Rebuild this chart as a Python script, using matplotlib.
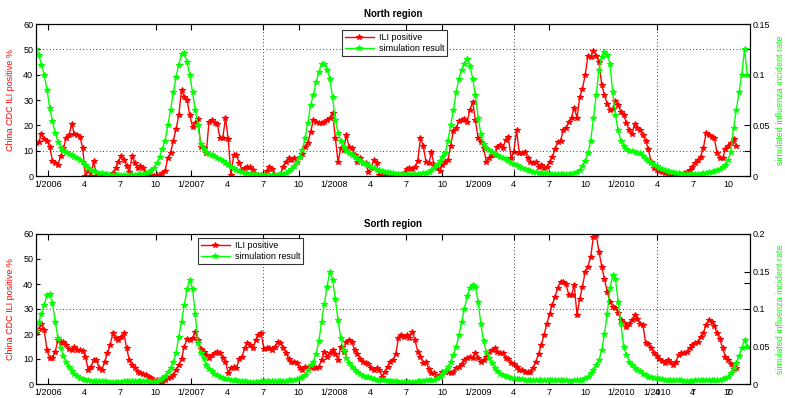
import numpy as np
import matplotlib
matplotlib.use("Agg")
import matplotlib.pyplot as plt
from matplotlib.transforms import blended_transform_factory, offset_copy

plt.rcParams['font.family'] = ['Liberation Sans', 'DejaVu Sans']

# quarter labels along the weekly x axis (week 0 = early Dec 2005)
tick_labels = ["1/2006", "4", "7", "10", "1/2007", "4", "7", "10", "1/2008", "4",
               "7", "10", "1/2009", "4", "7", "10", "1/2010", "4", "7", "10"]
first_tick_week = 4.4
weeks_per_quarter = 13.04
top_tick_idx = [0, 3, 4, 6, 7, 10, 11, 13, 14, 17]
vgrid_idx = [6, 13, 17]
# stray labels overprinted on the lower panel
south_extra_idx = [17, 18, 19]
south_extra_labels = ["1/2010", "4", "7"]

# North region: ILI positive (%) per week
north_ili = [
    13, 13.5, 16.5, 14.5, 14, 11.5, 6, 5, 4.5, 8,
    11, 15, 16, 20.5, 16.5, 16, 15.5, 11, 0, 2,
    0, 6, 0, 0.5, 0, 0.5, 0, 0.3, 1, 3,
    5.5, 8, 6.5, 4, 1.5, 8, 5, 3, 4, 3,
    1, 0, 0.5, 0, 0.5, 0.3, 1, 2, 7, 9,
    14, 18.5, 24, 34, 31, 30, 24, 19.5, 21, 22.5,
    11.5, 11, 9, 21.5, 22, 21, 20.5, 15, 15, 23,
    14.5, 0.4, 8.3, 8.3, 5, 2.4, 3, 3.7, 3.5, 2.4,
    0.4, 0.4, 0.3, 0.5, 2, 3.4, 2.8, 0.4, 0.3, 0.5,
    3.7, 5.7, 7, 6.3, 7, 5.7, 7.6, 8.6, 11.6, 13,
    17.5, 22, 21.4, 21, 20.8, 21.4, 22, 22.8, 25, 15,
    5.7, 11, 10.3, 16, 11.5, 11, 8.3, 5.7, 7, 5,
    5, 1.7, 3, 6.3, 5, 0.4, 0.5, 0.3, 0.5, 0.3,
    0.5, 0.3, 0.5, 0.5, 1, 2.8, 3, 2.8, 3.5, 6,
    15, 12, 5.7, 5, 9.3, 4.3, 3, 2, 4.3, 5.7,
    6.3, 12, 17.8, 18.8, 21.7, 22, 22.5, 21.5, 26, 29.3,
    22, 15, 13.5, 11, 5.7, 7, 8.3, 8.3, 11.6, 12.2,
    11, 14.2, 15.5, 7, 9.6, 18, 9, 9, 9.6, 7,
    5.7, 5, 5.7, 3.7, 4.3, 3, 3.7, 5.7, 7.5, 10.5,
    13.6, 14, 18, 19, 21.5, 23, 27, 23, 31, 34.5,
    40, 47.5, 47, 49.5, 47.5, 45, 36, 32, 28.5, 26,
    26.5, 29.5, 28, 25.4, 24, 21, 18, 16.5, 20.5, 19,
    18, 16, 14, 10.5, 5.5, 3, 2.5, 2, 1.5, 1,
    1, 0.5, 0.5, 0.3, 0.3, 0.5, 1, 1.7, 2.5, 3.5,
    5, 6.5, 7.5, 11, 16.8, 16, 15.5, 15, 9, 7,
    7, 10.5, 12, 13, 14.5, 12,
]

# North region: simulated influenza incident rate per week
north_sim = [
    0.125, 0.119, 0.110, 0.100, 0.085, 0.0675, 0.054, 0.0425, 0.034, 0.0275,
    0.025, 0.0233, 0.0218, 0.0205, 0.0188, 0.0175, 0.0158, 0.0138, 0.0113, 0.0083,
    0.0063, 0.005, 0.004, 0.0033, 0.0025, 0.002, 0.0015, 0.0013, 0.0013, 0.001,
    0.0008, 0.0008, 0.0008, 0.0008, 0.0008, 0.001, 0.0013, 0.0015, 0.0018, 0.0023,
    0.0025, 0.0035, 0.0055, 0.0083, 0.0125, 0.0188, 0.0263, 0.035, 0.05, 0.065,
    0.0825, 0.0975, 0.11, 0.12, 0.121, 0.1125, 0.1, 0.0825, 0.065, 0.05,
    0.0313, 0.0263, 0.0238, 0.022, 0.0208, 0.0193, 0.0175, 0.0163, 0.0145, 0.0125,
    0.0108, 0.0093, 0.0075, 0.0063, 0.005, 0.004, 0.0033, 0.0025, 0.002, 0.0015,
    0.0013, 0.001, 0.001, 0.001, 0.001, 0.001, 0.001, 0.001, 0.0013, 0.0015,
    0.0023, 0.0033, 0.005, 0.0065, 0.01, 0.0138, 0.0188, 0.0258, 0.0375, 0.0525,
    0.07, 0.08, 0.0925, 0.1025, 0.111, 0.111, 0.105, 0.096, 0.0775, 0.055,
    0.0425, 0.035, 0.0288, 0.025, 0.023, 0.0208, 0.0188, 0.017, 0.015, 0.0133,
    0.0118, 0.0105, 0.009, 0.0075, 0.0063, 0.0055, 0.0048, 0.004, 0.0035, 0.003,
    0.0025, 0.0023, 0.002, 0.002, 0.0018, 0.0018, 0.0018, 0.0018, 0.0018, 0.002,
    0.0023, 0.0025, 0.0033, 0.0043, 0.0055, 0.0075, 0.0108, 0.015, 0.0188, 0.0225,
    0.035, 0.05, 0.065, 0.0825, 0.096, 0.105, 0.111, 0.115, 0.109, 0.096,
    0.08, 0.0575, 0.0413, 0.0313, 0.0275, 0.0255, 0.024, 0.022, 0.0205, 0.019,
    0.0175, 0.0163, 0.015, 0.0133, 0.012, 0.0105, 0.0093, 0.008, 0.0068, 0.0058,
    0.0048, 0.0043, 0.0038, 0.0033, 0.003, 0.0028, 0.0025, 0.0023, 0.002, 0.002,
    0.0018, 0.0018, 0.0018, 0.0018, 0.002, 0.0023, 0.0028, 0.0035, 0.0055, 0.0095,
    0.015, 0.0225, 0.035, 0.057, 0.08, 0.105, 0.1175, 0.1225, 0.119, 0.111,
    0.0825, 0.06, 0.045, 0.035, 0.0295, 0.0263, 0.025, 0.0243, 0.0235, 0.023,
    0.0225, 0.02, 0.017, 0.0145, 0.0125, 0.0108, 0.0095, 0.0083, 0.007, 0.006,
    0.005, 0.0043, 0.0035, 0.003, 0.0025, 0.002, 0.0018, 0.0018, 0.0018, 0.0018,
    0.0018, 0.002, 0.0023, 0.0025, 0.003, 0.0035, 0.0043, 0.005, 0.0063, 0.007,
    0.0088, 0.0108, 0.0158, 0.024, 0.0475, 0.065, 0.0825, 0.1, 0.125, 0.1,
]

# South region: ILI positive (%) per week
south_ili = [
    20.3, 22, 24, 21.5, 13.5, 10.3, 10.3, 13, 17.6, 16.5,
    17, 15.6, 14, 13.5, 15, 13.6, 13.6, 13.2, 11, 5.6,
    7, 9.6, 9.6, 6.3, 5.6, 9, 12.3, 15.6, 20.3, 18.3,
    17.6, 19, 20.3, 14.3, 9.6, 7.6, 6.3, 5, 4.3, 4,
    3.6, 3, 2.3, 1.2, 1.6, 0.9, 0.7, 1.5, 2.3, 3,
    3.6, 5.6, 7.6, 10, 15, 18, 17.6, 18.3, 21, 17.6,
    14, 13, 11.6, 10.3, 11.6, 12.3, 13, 12.3, 10.5, 9,
    4.3, 6.3, 7, 6.3, 10, 11, 14.3, 16.3, 15.6, 14.3,
    17.5, 19.6, 20.3, 14, 14.3, 14.3, 13.6, 15, 17, 16.3,
    14.5, 12.5, 10, 9, 8.7, 8.3, 6.3, 5.6, 7, 6.3,
    6.3, 7, 6.5, 7, 9.6, 13, 11, 12.3, 13.5, 12,
    9.6, 15, 13, 17, 17.6, 17, 13.6, 12, 10, 9,
    8.3, 7.9, 6.3, 5.5, 6.3, 5.6, 3, 5, 7, 9,
    9.6, 12, 18.3, 19.6, 19, 19.6, 18.3, 21, 17.6, 13,
    11, 8.3, 9, 6, 4.3, 4.3, 3, 3.6, 5, 5,
    5, 4.3, 5, 6.3, 6.8, 8, 9.6, 10.3, 11, 10.3,
    12.3, 10.5, 9, 9.6, 11, 13, 13.5, 14.3, 13, 12.3,
    12.3, 10.3, 10, 8.5, 8, 7, 5.6, 5.6, 5, 5,
    5, 6.5, 9, 12, 15.6, 19.6, 24, 28, 31.6, 35,
    38.5, 41, 41, 40, 35.6, 35.6, 39.6, 27.6, 34, 39,
    45, 47, 51, 59, 59.6, 53, 47, 42, 37, 33,
    31, 30.5, 28.5, 25.5, 24.3, 23, 24, 25.6, 27.6, 26,
    24, 23.6, 16.5, 16, 14.5, 12.3, 11.3, 10, 9.3, 8.3,
    9.6, 9, 7.6, 9, 11.6, 12.3, 12.3, 13, 14.3, 15.5,
    16.3, 16.8, 19, 20.3, 23.6, 25.6, 25, 23.3, 20.3, 18,
    14.5, 11, 9.5, 8, 6, 6.3,
]

# South region: simulated influenza incident rate per week
south_sim = [
    0.072, 0.0833, 0.0933, 0.1053, 0.1183, 0.12, 0.1077, 0.0833, 0.061, 0.0477,
    0.0367, 0.0287, 0.0223, 0.0167, 0.0133, 0.0107, 0.0083, 0.0067, 0.0053, 0.0047,
    0.0043, 0.004, 0.004, 0.004, 0.0037, 0.0037, 0.0033, 0.0033, 0.003, 0.003,
    0.0033, 0.0033, 0.0037, 0.0037, 0.004, 0.004, 0.004, 0.004, 0.004, 0.004,
    0.0037, 0.0033, 0.003, 0.003, 0.0043, 0.0053, 0.0077, 0.0107, 0.0157, 0.0217,
    0.03, 0.0417, 0.0633, 0.0833, 0.105, 0.1267, 0.1387, 0.1267, 0.0933, 0.055,
    0.041, 0.0343, 0.0253, 0.02, 0.0167, 0.014, 0.0117, 0.01, 0.0083, 0.0073,
    0.0063, 0.0057, 0.005, 0.0047, 0.0043, 0.004, 0.0037, 0.0033, 0.0033, 0.003,
    0.0033, 0.0033, 0.0037, 0.004, 0.004, 0.004, 0.004, 0.004, 0.004, 0.004,
    0.0043, 0.0043, 0.0047, 0.005, 0.0057, 0.0067, 0.0077, 0.0093, 0.012, 0.0183,
    0.025, 0.03, 0.04, 0.0567, 0.0833, 0.1067, 0.13, 0.15, 0.1387, 0.1133,
    0.085, 0.061, 0.0453, 0.035, 0.0283, 0.0233, 0.0187, 0.016, 0.0133, 0.0113,
    0.01, 0.0087, 0.0077, 0.0067, 0.006, 0.0053, 0.005, 0.0047, 0.0043, 0.0043,
    0.004, 0.0037, 0.0033, 0.0033, 0.003, 0.003, 0.003, 0.0033, 0.0033, 0.0037,
    0.004, 0.0043, 0.0047, 0.005, 0.0053, 0.006, 0.0077, 0.01, 0.014, 0.0167,
    0.0227, 0.03, 0.0383, 0.05, 0.065, 0.0833, 0.1, 0.1167, 0.1283, 0.132,
    0.13, 0.11, 0.08, 0.0567, 0.0433, 0.035, 0.0277, 0.0217, 0.0167, 0.014,
    0.012, 0.0103, 0.009, 0.0083, 0.0077, 0.007, 0.0067, 0.0063, 0.006, 0.0057,
    0.0053, 0.005, 0.005, 0.005, 0.005, 0.005, 0.005, 0.005, 0.005, 0.0053,
    0.0053, 0.0053, 0.005, 0.0047, 0.0043, 0.0043, 0.0047, 0.005, 0.0053, 0.006,
    0.0077, 0.01, 0.015, 0.0187, 0.0253, 0.0317, 0.045, 0.0667, 0.0933, 0.1277,
    0.145, 0.14, 0.11, 0.08, 0.05, 0.0387, 0.03, 0.025, 0.0217, 0.0187,
    0.0167, 0.014, 0.0117, 0.01, 0.009, 0.0083, 0.0077, 0.007, 0.0067, 0.006,
    0.0057, 0.0053, 0.005, 0.005, 0.0047, 0.0047, 0.0043, 0.0043, 0.0043, 0.0043,
    0.0047, 0.0047, 0.005, 0.005, 0.005, 0.0053, 0.0053, 0.0053, 0.0053, 0.006,
    0.0067, 0.0083, 0.01, 0.0143, 0.021, 0.0283, 0.0367, 0.0477, 0.0587, 0.05,
]

RED = (1.0, 0.0, 0.0)
GREEN = (0.0, 1.0, 0.0)
FS = 6.5

fig = plt.figure(figsize=(7.85, 3.98), dpi=100)


def draw_panel(rect, ili, sim, title, rmax, rticks, rminor, hgrid, leg_anchor, extra=None):
    ax = fig.add_axes(rect)
    ax2 = ax.twinx()
    ax.set_zorder(1)
    ax2.set_zorder(2)
    ax2.patch.set_visible(False)

    l1, = ax.plot(np.arange(len(ili)), ili, '-', color=RED, marker='*', ms=4, lw=1, mew=0.8)
    l2, = ax2.plot(np.arange(len(sim)), sim, '-', color=GREEN, marker='*', ms=4, lw=1, mew=0.8)

    ax.set_xlim(0, 260)
    ax.set_ylim(0, 60)
    ax2.set_ylim(0, rmax)

    tick_pos = [first_tick_week + weeks_per_quarter * k for k in range(len(tick_labels))]
    ax.set_xticks(tick_pos, tick_labels)
    ax.xaxis.remove_overlapping_locs = False
    ax.set_xticks([tick_pos[k] for k in top_tick_idx], minor=True)
    ax.tick_params(axis='x', which='major', length=0, pad=3, labelsize=FS)
    ax.tick_params(axis='x', which='minor', direction='in', length=4, top=True, bottom=True, width=0.8)

    ax.set_yticks(np.arange(0, 61, 10))
    ax.tick_params(axis='y', direction='in', length=3, labelsize=FS, pad=2, width=0.8)
    ax2.set_yticks(rticks)
    ax2.set_yticks(rminor, minor=True)
    ax2.set_yticklabels([f"{t:g}" for t in rticks])
    ax2.tick_params(axis='y', which='both', direction='in', length=4, labelsize=FS, pad=2, width=0.8)

    for h in hgrid:
        ax.axhline(h, color='black', ls=(0, (1, 3)), lw=0.6)
    for k in vgrid_idx:
        ax.axvline(tick_pos[k], color='black', ls=(0, (1, 3)), lw=0.6)

    for a in (ax, ax2):
        for s in a.spines.values():
            s.set_linewidth(0.8)

    ax.set_ylabel("China CDC ILI positive %", color=RED, fontsize=FS, labelpad=6)
    ax2.set_ylabel("simulated influenza incident rate", color=GREEN, fontsize=FS,
                   rotation=90, labelpad=4)
    ax.set_title(title, fontsize=7, fontweight='bold', pad=5)

    if extra is not None:
        trans = offset_copy(blended_transform_factory(ax.transData, ax.transAxes),
                            fig=fig, y=-3, units='points')
        for k, lab in zip(*extra):
            ax.text(tick_pos[k], 0, lab, transform=trans, ha='center', va='top', fontsize=FS)

    leg = ax2.legend([l1, l2], ["ILI positive", "simulation result"], loc='upper left',
                     bbox_to_anchor=leg_anchor, fontsize=FS, frameon=True, fancybox=False,
                     handlelength=3.2, borderpad=0.3, labelspacing=0.25, handletextpad=0.6,
                     borderaxespad=0)
    leg.get_frame().set_edgecolor('black')
    leg.get_frame().set_linewidth(0.8)
    return ax, ax2


draw_panel([36 / 785, 1 - 176 / 398, 714 / 785, 152 / 398], north_ili, north_sim,
           "North region", 0.15, [0, 0.05, 0.1, 0.15], [0.025, 0.125], [10, 50],
           (0.4286, 0.96))
draw_panel([36 / 785, 1 - 384 / 398, 714 / 785, 150 / 398], south_ili, south_sim,
           "Sorth region", 0.2, [0, 0.05, 0.1, 0.15, 0.2], [0.135], [30],
           (0.227, 0.973), extra=(south_extra_idx, south_extra_labels))

fig.savefig("out.png", dpi=100)
